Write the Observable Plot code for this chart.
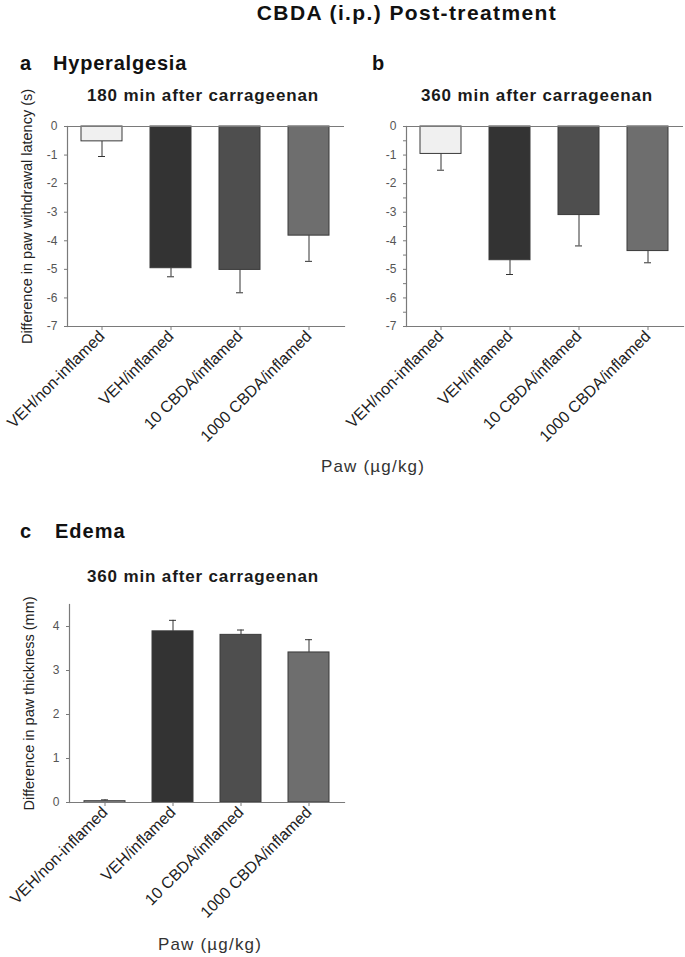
<!DOCTYPE html>
<html><head><meta charset="utf-8">
<script src="https://cdn.jsdelivr.net/npm/d3@7"></script>
<script src="https://cdn.jsdelivr.net/npm/@observablehq/plot@0.6"></script>
<style>
body{margin:0;background:#fff;}
#root{position:relative;width:685px;height:957px;font-family:"Liberation Sans",Arial,sans-serif;color:#111;overflow:hidden;background:#fff}
.t{position:absolute;white-space:nowrap;line-height:1;}
.c{transform:translateX(-50%);}
.b{font-weight:bold;}
.p{position:absolute;}
.p svg{overflow:visible;}
</style></head><body><div id="root"></div>
<script>
// ---- data ----
const categories = ["VEH/non-inflamed", "VEH/inflamed", "10 CBDA/inflamed", "1000 CBDA/inflamed"];
const barFills = ["#f0f0f0", "#333333", "#4e4e4e", "#6e6e6e"];
const hyper180 = [-0.52, -4.96, -5.02, -3.82];
const hyper180Err = [0.53, 0.30, 0.80, 0.90];
const hyper360 = [-0.96, -4.68, -3.10, -4.36];
const hyper360Err = [0.57, 0.50, 1.08, 0.41];
const edema360 = [0.03, 3.89, 3.81, 3.41];
const edema360Err = [0.03, 0.25, 0.11, 0.29];
const hyperTicks = [0, -1, -2, -3, -4, -5, -6, -7];
const hyperTicksMinor = [0, -0.5, -1, -1.5, -2, -2.5, -3, -3.5, -4, -4.5, -5, -5.5, -6, -6.5, -7];
const edemaTicks = [0, 1, 2, 3, 4];
const texts = {
  title: "CBDA (i.p.) Post-treatment",
  a: "a", aTitle: "Hyperalgesia", b: "b", c: "c", cTitle: "Edema",
  sub180: "180 min after carrageenan", sub360: "360 min after carrageenan",
  xLabel: "Paw (µg/kg)",
  yHyper: "Difference in paw withdrawal latency (s)",
  yEdema: "Difference in paw thickness (mm)"
};

const root = document.getElementById("root");
function addText(str, cls, left, top, size, color, spacing) {
  const d = document.createElement("div");
  d.className = "t " + cls;
  d.textContent = str;
  d.style.left = left + "px";
  d.style.top = top + "px";
  d.style.fontSize = size + "px";
  d.style.letterSpacing = (spacing || 0) + "px";
  if (color) d.style.color = color;
  root.appendChild(d);
}

const axisColor = "#7a7a7a";
const barStroke = "#3a3a3a";
const fmt = d => Number.isInteger(d) ? String(d) : "";

function panel({values, errors, yDomain, ticks, yLabel, left, top, width, marginLeft, marginRight, marginTop, frameHeight, zeroLine, labelDx, labelDy}) {
  const rows = categories.map((cat, i) => ({
    cat, value: values[i], fill: barFills[i],
    end: values[i] + Math.sign(values[i]) * errors[i]
  }));
  const marginBottom = 100;
  const marks = [
    Plot.ruleX(rows, {x: "cat", y1: "value", y2: "end", stroke: "#333", strokeWidth: 1}),
    Plot.tickY(rows, {x: "cat", y: "end", stroke: "#333", strokeWidth: 1, insetLeft: 17, insetRight: 17}),
    Plot.barY(rows, {x: "cat", y: "value", fill: "fill", stroke: barStroke, strokeWidth: 1}),
    Plot.frame({anchor: "left", stroke: axisColor, strokeWidth: 1.2}),
    Plot.frame({anchor: "bottom", stroke: axisColor, strokeWidth: 1.2}),
    Plot.axisY({ticks, tickSize: 3, tickPadding: 7, tickFormat: fmt, fontSize: 12, label: null, stroke: axisColor, color: "#555"}),
    Plot.axisX({tickSize: 4, tickPadding: 3, tickRotate: -45, fontSize: 16, label: null, stroke: axisColor, color: "#222"})
  ];
  if (yLabel) marks.push(Plot.text([yLabel], {text: d => d, frameAnchor: "left", rotate: -90, lineAnchor: "top",
    textAnchor: "middle", dx: labelDx, dy: labelDy, fontSize: 14.5, fill: "#222"}));
  if (zeroLine) marks.push(Plot.ruleY([0], {stroke: axisColor, strokeWidth: 1.2}));
  const svg = Plot.plot({
    width, height: marginTop + frameHeight + marginBottom,
    marginLeft, marginRight, marginTop, marginBottom,
    style: {fontFamily: '"Liberation Sans", Arial, sans-serif', background: "transparent", color: "#333"},
    x: {domain: categories, paddingInner: 0.4, paddingOuter: 0.2},
    y: {domain: yDomain},
    color: {type: "identity"},
    marks
  });
  const wrap = document.createElement("div");
  wrap.className = "p";
  wrap.style.left = left + "px";
  wrap.style.top = top + "px";
  wrap.appendChild(svg);
  root.appendChild(wrap);
}

panel({values: hyper180, errors: hyper180Err, yDomain: [-7, 0], ticks: hyperTicks, yLabel: texts.yHyper,
  left: 0, top: 110, width: 350, marginLeft: 67, marginRight: 6, marginTop: 16, frameHeight: 200, zeroLine: true, labelDx: -46, labelDy: -10});
panel({values: hyper360, errors: hyper360Err, yDomain: [-7, 0], ticks: hyperTicksMinor, yLabel: null,
  left: 340, top: 110, width: 345, marginLeft: 66, marginRight: 2, marginTop: 16, frameHeight: 200, zeroLine: true});
panel({values: edema360, errors: edema360Err, yDomain: [0, 4.5], ticks: edemaTicks, yLabel: texts.yEdema,
  left: 0, top: 590, width: 350, marginLeft: 69, marginRight: 6, marginTop: 14, frameHeight: 198, zeroLine: false, labelDx: -46, labelDy: 0});

// ---- annotations ----
addText(texts.title, "b c", 407, 2, 21, "#111", 1.4);
addText(texts.a, "b", 20, 53, 20, "#111");
addText(texts.aTitle, "b", 53, 53, 20, "#111", 0.8);
addText(texts.b, "b", 372, 53, 20, "#111");
addText(texts.sub180, "b c", 203, 87, 17, "#1a1a1a", 0.85);
addText(texts.sub360, "b c", 537, 87, 17, "#1a1a1a", 0.85);
addText(texts.xLabel, "c", 373, 458, 17, "#333", 1.2);
addText(texts.c, "b", 20, 521, 20, "#111");
addText(texts.cTitle, "b", 55, 521, 20, "#111", 1);
addText(texts.sub360, "b c", 203, 568, 17, "#1a1a1a", 0.85);
addText(texts.xLabel, "c", 210, 936, 17, "#333", 1.2);
</script></body></html>
